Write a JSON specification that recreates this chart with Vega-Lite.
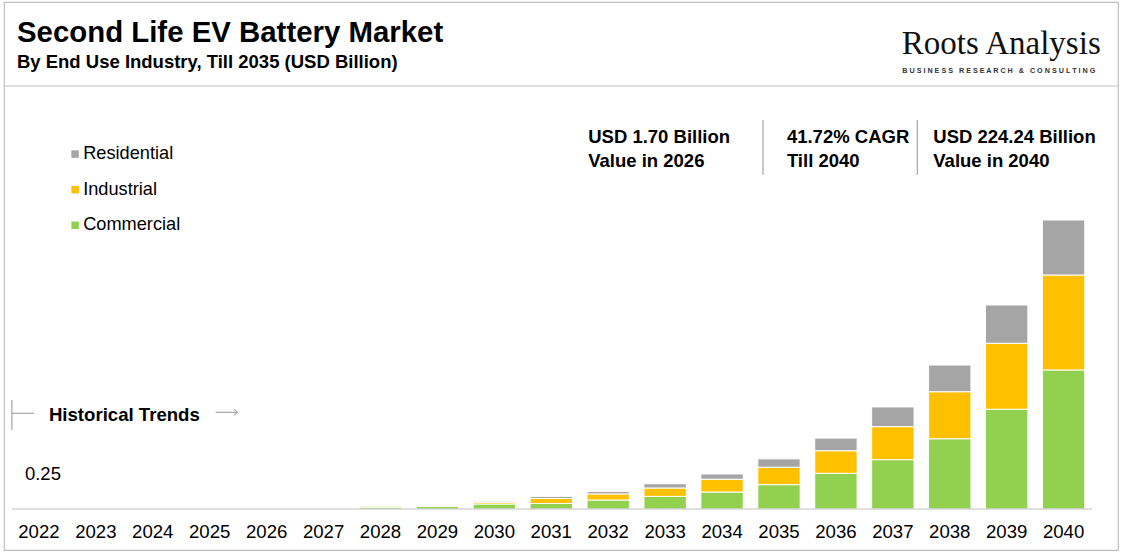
{
  "$schema": "https://vega.github.io/schema/vega-lite/v6.json",
  "width": 1123,
  "height": 553,
  "autosize": {"type": "fit", "contains": "padding"},
  "padding": {"left": 3, "top": 2, "right": 4, "bottom": 3},
  "background": "#ffffff",
  "config": {
    "font": "Liberation Sans",
    "view": {"stroke": "#bfbfbf", "strokeWidth": 1.2}
  },
  "data": {
    "values": [
      {"year": "2022", "segment": "Commercial", "value": 0.02},
      {"year": "2022", "segment": "Industrial", "value": 0.01},
      {"year": "2022", "segment": "Residential", "value": 0.01},
      {"year": "2023", "segment": "Commercial", "value": 0.03},
      {"year": "2023", "segment": "Industrial", "value": 0.02},
      {"year": "2023", "segment": "Residential", "value": 0.01},
      {"year": "2024", "segment": "Commercial", "value": 0.05},
      {"year": "2024", "segment": "Industrial", "value": 0.03},
      {"year": "2024", "segment": "Residential", "value": 0.02},
      {"year": "2025", "segment": "Commercial", "value": 0.08},
      {"year": "2025", "segment": "Industrial", "value": 0.05},
      {"year": "2025", "segment": "Residential", "value": 0.03},
      {"year": "2026", "segment": "Commercial", "value": 0.12},
      {"year": "2026", "segment": "Industrial", "value": 0.08},
      {"year": "2026", "segment": "Residential", "value": 0.05},
      {"year": "2027", "segment": "Commercial", "value": 0.6},
      {"year": "2027", "segment": "Industrial", "value": 0.4},
      {"year": "2027", "segment": "Residential", "value": 0.2},
      {"year": "2028", "segment": "Commercial", "value": 1.5},
      {"year": "2028", "segment": "Industrial", "value": 0.8},
      {"year": "2028", "segment": "Residential", "value": 0.5},
      {"year": "2029", "segment": "Commercial", "value": 2.0},
      {"year": "2029", "segment": "Industrial", "value": 0.9},
      {"year": "2029", "segment": "Residential", "value": 0.5},
      {"year": "2030", "segment": "Commercial", "value": 3.9},
      {"year": "2030", "segment": "Industrial", "value": 1.3},
      {"year": "2030", "segment": "Residential", "value": 0.8},
      {"year": "2031", "segment": "Commercial", "value": 4.3},
      {"year": "2031", "segment": "Industrial", "value": 3.9},
      {"year": "2031", "segment": "Residential", "value": 1.6},
      {"year": "2032", "segment": "Commercial", "value": 7.0},
      {"year": "2032", "segment": "Industrial", "value": 4.7},
      {"year": "2032", "segment": "Residential", "value": 1.8},
      {"year": "2033", "segment": "Commercial", "value": 9.8},
      {"year": "2033", "segment": "Industrial", "value": 6.5},
      {"year": "2033", "segment": "Residential", "value": 3.3},
      {"year": "2034", "segment": "Commercial", "value": 13.2},
      {"year": "2034", "segment": "Industrial", "value": 9.9},
      {"year": "2034", "segment": "Residential", "value": 4.1},
      {"year": "2035", "segment": "Commercial", "value": 18.9},
      {"year": "2035", "segment": "Industrial", "value": 13.5},
      {"year": "2035", "segment": "Residential", "value": 6.5},
      {"year": "2036", "segment": "Commercial", "value": 27.7},
      {"year": "2036", "segment": "Industrial", "value": 17.5},
      {"year": "2036", "segment": "Residential", "value": 9.8},
      {"year": "2037", "segment": "Commercial", "value": 38.3},
      {"year": "2037", "segment": "Industrial", "value": 25.6},
      {"year": "2037", "segment": "Residential", "value": 15.3},
      {"year": "2038", "segment": "Commercial", "value": 54.5},
      {"year": "2038", "segment": "Industrial", "value": 36.5},
      {"year": "2038", "segment": "Residential", "value": 20.7},
      {"year": "2039", "segment": "Commercial", "value": 77.4},
      {"year": "2039", "segment": "Industrial", "value": 51.2},
      {"year": "2039", "segment": "Residential", "value": 29.7},
      {"year": "2040", "segment": "Commercial", "value": 107.9},
      {"year": "2040", "segment": "Industrial", "value": 73.7},
      {"year": "2040", "segment": "Residential", "value": 42.64}
    ]
  },
  "layer": [
    {
      "mark": {"type": "bar", "stroke": "#ffffff", "strokeWidth": 1},
      "encoding": {
        "x": {
          "field": "year",
          "type": "ordinal",
          "scale": {"type": "band", "paddingInner": 0.256, "paddingOuter": 0.4124, "align": 0.293, "round": false},
          "axis": {
            "title": null,
            "orient": "bottom",
            "offset": -41,
            "domain": false,
            "ticks": false,
            "tickSize": 0,
            "labelAngle": 0,
            "labelFont": "Liberation Sans",
            "labelFontSize": 18.6,
            "labelColor": "#000000",
            "labelBaseline": "alphabetic",
            "labelPadding": 28
          }
        },
        "y": {
          "field": "value",
          "type": "quantitative",
          "stack": "zero",
          "scale": {"domain": [-31.81, 393.39], "nice": false, "zero": false},
          "axis": null
        },
        "color": {
          "field": "segment",
          "type": "nominal",
          "scale": {"domain": ["Residential", "Industrial", "Commercial"], "range": ["#a5a5a5", "#ffc000", "#92d050"]},
          "legend": {
            "title": null,
            "orient": "none",
            "legendX": 62,
            "legendY": 143,
            "padding": 0,
            "symbolType": "square",
            "symbolSize": 56,
            "symbolStrokeWidth": 0,
            "labelFont": "Liberation Sans",
            "labelFontSize": 18.2,
            "labelColor": "#000000",
            "labelOffset": -1,
            "rowPadding": 16.6
          }
        },
        "order": {"field": "segment", "sort": "ascending"}
      }
    },
    {
      "data": {"values": [{}]},
      "mark": {"type": "rule", "color": "#bfbfbf", "strokeWidth": 1.2, "xOffset": -27, "x2Offset": 28.5},
      "encoding": {
        "x": {"datum": "2022", "type": "ordinal"},
        "x2": {"datum": "2040"},
        "y": {"datum": 0, "axis": null}
      }
    },
    {
      "data": {"values": [{}]},
      "mark": {"type": "rule", "color": "#bfbfbf", "strokeWidth": 1.2},
      "encoding": {
        "y": {"datum": 328.21, "axis": null}
      }
    },
    {
      "data": {"values": [{}]},
      "mark": {"type": "text", "text": "Second Life EV Battery Market", "font": "Liberation Sans", "fontSize": 29.4, "fontWeight": "bold", "align": "left", "baseline": "alphabetic", "dx": -22, "color": "#000000"},
      "encoding": {
        "x": {"datum": "2022", "type": "ordinal"},
        "y": {"datum": 362.35, "axis": null}
      }
    },
    {
      "data": {"values": [{}]},
      "mark": {"type": "text", "text": "By End Use Industry, Till 2035 (USD Billion)", "font": "Liberation Sans", "fontSize": 18.5, "fontWeight": "bold", "align": "left", "baseline": "alphabetic", "dx": -22, "color": "#000000"},
      "encoding": {
        "x": {"datum": "2022", "type": "ordinal"},
        "y": {"datum": 342.18, "axis": null}
      }
    },
    {
      "data": {"values": [{}]},
      "mark": {"type": "text", "text": "Roots Analysis", "font": "Liberation Serif", "fontSize": 33, "align": "left", "baseline": "alphabetic", "dx": -48, "color": "#111111"},
      "encoding": {
        "x": {"datum": "2038", "type": "ordinal"},
        "y": {"datum": 352.81, "axis": null}
      }
    },
    {
      "data": {"values": [{}]},
      "mark": {"type": "text", "text": "B U S I N E S S\u00a0\u00a0\u00a0R E S E A R C H\u00a0\u00a0\u00a0&\u00a0\u00a0\u00a0C O N S U L T I N G", "font": "Liberation Sans", "fontSize": 7.2, "fontWeight": "bold", "align": "left", "baseline": "middle", "dx": -47.5, "color": "#333333"},
      "encoding": {
        "x": {"datum": "2038", "type": "ordinal"},
        "y": {"datum": 339.85, "axis": null}
      }
    },
    {
      "data": {"values": [{}]},
      "mark": {"type": "text", "text": ["USD 1.70 Billion", "Value in 2026"], "lineHeight": 23.4, "font": "Liberation Sans", "fontSize": 18.5, "fontWeight": "bold", "align": "left", "baseline": "alphabetic", "dx": -20, "color": "#000000"},
      "encoding": {
        "x": {"datum": "2032", "type": "ordinal"},
        "y": {"datum": 283.75, "axis": null}
      }
    },
    {
      "data": {"values": [{}]},
      "mark": {"type": "text", "text": ["41.72% CAGR", "Till 2040"], "lineHeight": 23.4, "font": "Liberation Sans", "fontSize": 18.5, "fontWeight": "bold", "align": "left", "baseline": "alphabetic", "dx": 7.9, "color": "#000000"},
      "encoding": {
        "x": {"datum": "2035", "type": "ordinal"},
        "y": {"datum": 283.75, "axis": null}
      }
    },
    {
      "data": {"values": [{}]},
      "mark": {"type": "text", "text": ["USD 224.24 Billion", "Value in 2040"], "lineHeight": 23.4, "font": "Liberation Sans", "fontSize": 18.5, "fontWeight": "bold", "align": "left", "baseline": "alphabetic", "dx": -16.5, "color": "#000000"},
      "encoding": {
        "x": {"datum": "2038", "type": "ordinal"},
        "y": {"datum": 283.75, "axis": null}
      }
    },
    {
      "data": {"values": [{}]},
      "mark": {"type": "rule", "color": "#a6a6a6", "strokeWidth": 1.2, "xOffset": -16},
      "encoding": {
        "x": {"datum": "2035", "type": "ordinal"},
        "y": {"datum": 301.83, "axis": null},
        "y2": {"datum": 259.16}
      }
    },
    {
      "data": {"values": [{}]},
      "mark": {"type": "rule", "color": "#a6a6a6", "strokeWidth": 1.2, "xOffset": 24.5},
      "encoding": {
        "x": {"datum": "2037", "type": "ordinal"},
        "y": {"datum": 301.83, "axis": null},
        "y2": {"datum": 259.16}
      }
    },
    {
      "data": {"values": [{}]},
      "mark": {"type": "rule", "color": "#a6a6a6", "strokeWidth": 1.2, "xOffset": -27},
      "encoding": {
        "x": {"datum": "2022", "type": "ordinal"},
        "y": {"datum": 84.57, "axis": null},
        "y2": {"datum": 61.29}
      }
    },
    {
      "data": {"values": [{}]},
      "mark": {"type": "rule", "color": "#a6a6a6", "strokeWidth": 1.2, "xOffset": -27, "x2Offset": -5},
      "encoding": {
        "x": {"datum": "2022", "type": "ordinal"},
        "x2": {"datum": "2022"},
        "y": {"datum": 74.26, "axis": null}
      }
    },
    {
      "data": {"values": [{}]},
      "mark": {"type": "text", "text": "Historical Trends", "font": "Liberation Sans", "fontSize": 18.6, "fontWeight": "bold", "align": "left", "baseline": "alphabetic", "dx": 10, "color": "#000000"},
      "encoding": {
        "x": {"datum": "2022", "type": "ordinal"},
        "y": {"datum": 68.51, "axis": null}
      }
    },
    {
      "data": {"values": [{}]},
      "mark": {"type": "rule", "color": "#a6a6a6", "strokeWidth": 1.2, "xOffset": 6, "x2Offset": 27.5},
      "encoding": {
        "x": {"datum": "2025", "type": "ordinal"},
        "x2": {"datum": "2025"},
        "y": {"datum": 75.03, "axis": null}
      }
    },
    {
      "data": {"values": [{}]},
      "mark": {"type": "point", "shape": "M -1 -1 L 0 0 L -1 1", "filled": false, "size": 36, "stroke": "#a6a6a6", "strokeWidth": 1.2, "opacity": 1, "xOffset": 27.5},
      "encoding": {
        "x": {"datum": "2025", "type": "ordinal"},
        "y": {"datum": 75.03, "axis": null}
      }
    },
    {
      "data": {"values": [{}]},
      "mark": {"type": "text", "text": "0.25", "font": "Liberation Sans", "fontSize": 18.5, "align": "left", "baseline": "middle", "dx": -14, "color": "#000000"},
      "encoding": {
        "x": {"datum": "2022", "type": "ordinal"},
        "y": {"datum": 27.16, "axis": null}
      }
    }
  ]
}
